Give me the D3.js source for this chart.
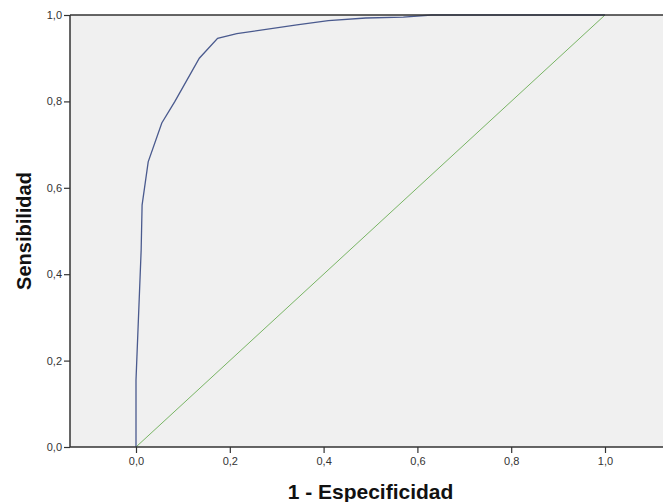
<!DOCTYPE html>
<html><head><meta charset="utf-8">
<script src="https://cdn.jsdelivr.net/npm/d3@7/dist/d3.min.js"></script>
<style>html,body{margin:0;padding:0;background:#fff;}svg{display:block;}</style>
</head><body>
<script>
const rocX = [0, 0, 0.002, 0.011, 0.013, 0.026, 0.055, 0.083, 0.135, 0.174, 0.215, 0.343, 0.41, 0.49, 0.57, 0.63, 1.0];
const rocY = [0, 0.155, 0.21, 0.456, 0.56, 0.66, 0.75, 0.80, 0.90, 0.946, 0.957, 0.977, 0.987, 0.993, 0.995, 1.0, 1.0];
const refX = [0, 1];
const refY = [0, 1];
const tickValues = [0, 0.2, 0.4, 0.6, 0.8, 1.0];
const tickLabels = ["0,0", "0,2", "0,4", "0,6", "0,8", "1,0"];
const xTitle = "1 - Especificidad";
const yTitle = "Sensibilidad";

const W = 663, H = 502;
const svg = d3.select("body").append("svg").attr("width", W).attr("height", H);
const pL = 70, pR = 663, pT = 15, pB = 447;
const x = d3.scaleLinear().domain([0, 1]).range([136, 605]);
const y = d3.scaleLinear().domain([0, 1]).range([pB, pT]);

svg.append("rect").attr("x", pL).attr("y", pT).attr("width", pR - pL).attr("height", pB - pT).attr("fill", "#f0f0f0");

const line = d3.line().x(d => x(d[0])).y(d => y(d[1]));
svg.append("path").datum(refX.map((v, i) => [v, refY[i]])).attr("d", line)
  .attr("fill", "none").attr("stroke", "#78b464").attr("stroke-width", 1);
svg.append("path").datum(rocX.map((v, i) => [v, rocY[i]])).attr("d", line)
  .attr("fill", "none").attr("stroke", "#4a5a8e").attr("stroke-width", 1.3);

svg.append("line").attr("x1", pL).attr("x2", pR).attr("y1", pT).attr("y2", pT).attr("stroke", "#333").attr("stroke-width", 1.5);

const fmt = (d) => tickLabels[tickValues.indexOf(d)];
const yAxis = d3.axisLeft(y).tickValues(tickValues).tickFormat(fmt).tickSize(6).tickPadding(2);
const gy = svg.append("g").attr("transform", `translate(${pL},0)`).call(yAxis);
gy.select(".domain").remove();
svg.append("line").attr("x1", pL).attr("x2", pL).attr("y1", pT).attr("y2", pB).attr("stroke", "#333").attr("stroke-width", 1.5);

const xAxis = d3.axisBottom(x).tickValues(tickValues).tickFormat(fmt).tickSize(6).tickPadding(4);
const gx = svg.append("g").attr("transform", `translate(0,${pB})`).call(xAxis);
gx.select(".domain").remove();
svg.append("line").attr("x1", pL).attr("x2", pR).attr("y1", pB).attr("y2", pB).attr("stroke", "#333").attr("stroke-width", 1.5);

svg.selectAll(".tick line").attr("stroke", "#333").attr("stroke-width", 1.2);
svg.selectAll(".tick text").attr("fill", "#333").style("font-family", "'Liberation Sans', Arial, sans-serif").style("font-size", "11px");

svg.append("text").attr("x", (x(0) + x(1)) / 2).attr("y", 499).attr("text-anchor", "middle")
  .style("font-family", "'Liberation Sans', Arial, sans-serif").style("font-weight", "bold").style("font-size", "21px").attr("fill", "#111").text(xTitle);
svg.append("text").attr("transform", `translate(31,${(pT + pB) / 2}) rotate(-90)`).attr("text-anchor", "middle")
  .style("font-family", "'Liberation Sans', Arial, sans-serif").style("font-weight", "bold").style("font-size", "20px").attr("fill", "#111").text(yTitle);
</script>
</body></html>
